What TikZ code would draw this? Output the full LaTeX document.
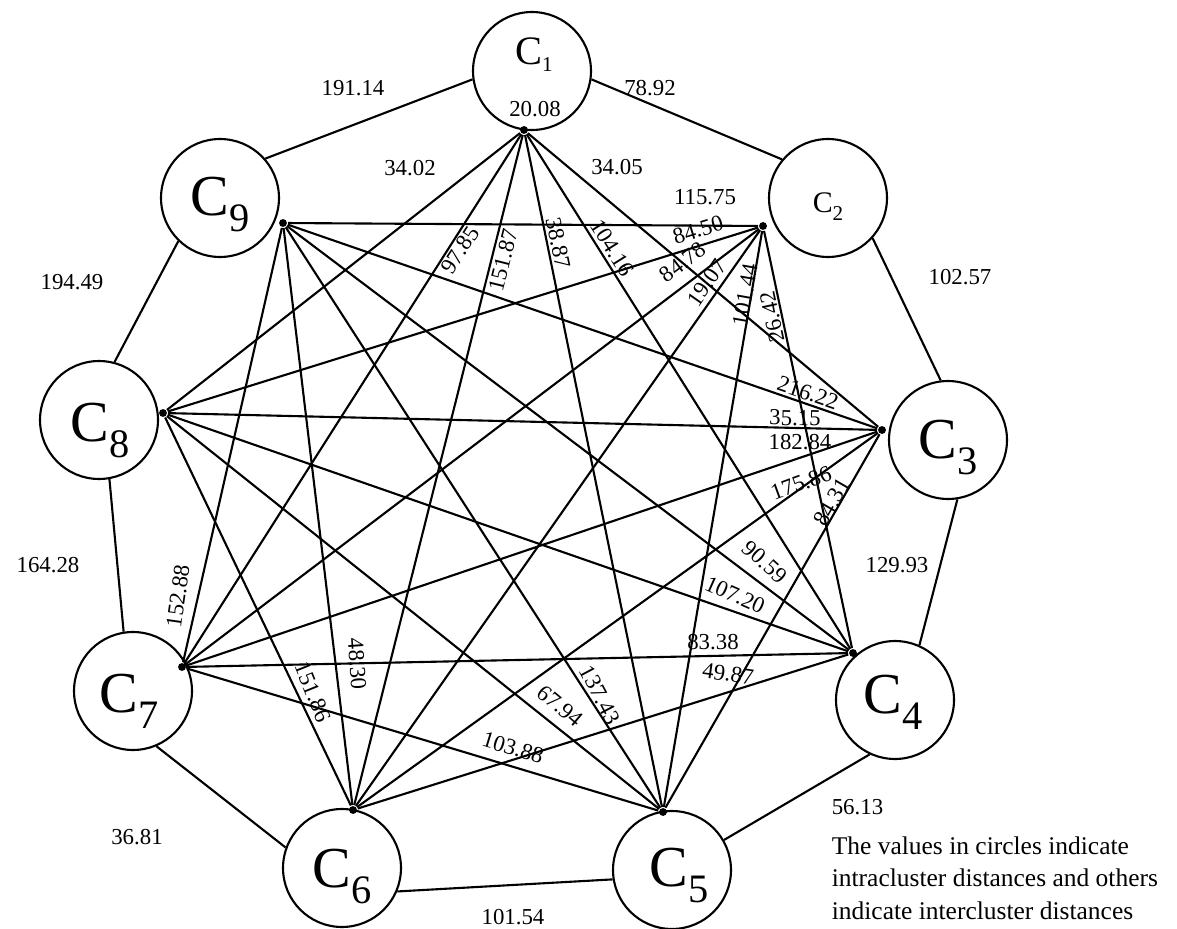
\documentclass[tikz,border=0pt]{standalone}
\usepackage{fontspec}
\setmainfont{Liberation Serif}
\newcommand{\bigclu}[1]{{\fontsize{33}{33}\selectfont C}\raisebox{-0.32cm}{\fontsize{23}{23}\selectfont #1}}

\begin{document}
\begin{tikzpicture}[x=0.02cm,y=-0.02cm,line width=1.2pt,
  clu/.style={draw,circle,minimum size=2.36cm,inner sep=0pt},
  hub/.style={circle,fill,inner sep=0pt,minimum size=4.5pt},
  cname/.style={inner sep=0pt,text depth=0pt},
  num/.style={font=\fontsize{13}{15}\selectfont,inner sep=1pt}]
\useasboundingbox (0,0) rectangle (1177,929);

\node[clu] (c1) at (532,71) {};
\node[clu] (c2) at (828,198) {};
\node[clu] (c3) at (948,440) {};
\node[clu] (c4) at (895,700) {};
\node[clu] (c5) at (672,870) {};
\node[clu] (c6) at (342,868) {};
\node[clu] (c7) at (133,691) {};
\node[clu] (c8) at (99,420) {};
\node[clu] (c9) at (220,198) {};

\node[cname] (n1) at (534,51) {{\fontsize{23}{23}\selectfont C}\raisebox{-0.14cm}{\fontsize{12}{12}\selectfont 1}};
\node[cname] (n2) at (828,203) {{\fontsize{17}{17}\selectfont C}\raisebox{-0.16cm}{\fontsize{12}{12}\selectfont 2}};
\node[cname] (n3) at (948,439) {\bigclu{3}};
\node[cname] (n4) at (893,694) {\bigclu{4}};
\node[cname] (n5) at (679,867) {\bigclu{5}};
\node[cname] (n6) at (342,868) {\bigclu{6}};
\node[cname] (n7) at (129,693) {\bigclu{7}};
\node[cname] (n8) at (100,422) {\bigclu{8}};
\node[cname] (n9) at (220,196) {\bigclu{9}};

\node[hub] (h1) at (524,130) {};
\node[hub] (h2) at (763,226) {};
\node[hub] (h3) at (882,430) {};
\node[hub] (h4) at (853,653) {};
\node[hub] (h5) at (663,812) {};
\node[hub] (h6) at (353,810) {};
\node[hub] (h7) at (182,667) {};
\node[hub] (h8) at (163,413) {};
\node[hub] (h9) at (283,223) {};

\foreach \a/\b in {1/3,1/4,1/5,1/6,1/7,1/8,2/4,2/5,2/6,2/7,2/8,2/9,3/5,3/6,3/7,3/8,3/9,
  4/6,4/7,4/8,4/9,5/7,5/8,5/9,6/8,6/9,7/9}
  \draw (h\a) -- (h\b);

\draw (c1.352) -- (c2.140);
\draw (c2.318) -- (c3.97);
\draw (c3.279) -- (c4.66);
\draw (c4.245) -- (c5.30);
\draw (c5.189) -- (c6.337);
\draw (c6.160) -- (c7.293);
\draw (c7.99) -- (c8.280);
\draw (c8.75) -- (c9.226);
\draw (c9.41) -- (c1.188);

\node[num] (d11) at (535,109) {20.08};
\node[num] (d12) at (650,88) {78.92};
\node[num] (d19) at (353,88) {191.14};
\node[num] (d23) at (960,277) {102.57};
\node[num] (d34) at (897,565) {129.93};
\node[num,anchor=west] (d45) at (829,807) {56.13};
\node[num] (d56) at (513,917) {101.54};
\node[num] (d67) at (137,837) {36.81};
\node[num] (d78) at (48,565) {164.28};
\node[num] (d89) at (72,282) {194.49};

\node[num] (d18) at (410,168) {34.02};
\node[num] (d13) at (617,167) {34.05};
\node[num,rotate=57] (d17) at (460,250) {97.85};
\node[num,rotate=76] (d16) at (503,260) {151.87};
\node[num,rotate=-78] (d15) at (558,243) {38.87};
\node[num,rotate=-58] (d14) at (612,248) {104.16};
\node[num] (d29) at (705,197) {115.75};
\node[num,rotate=17] (d28) at (698,230) {84.50};
\node[num,rotate=37] (d27) at (683,262) {84.78};
\node[num,rotate=55] (d26) at (707,283) {19.07};
\node[num,rotate=80] (d25) at (745,295) {101.44};
\node[num,rotate=102] (d24) at (772,317) {26.42};
\node[num,rotate=-19] (d39) at (808,393) {216.22};
\node[num,rotate=-1] (d38) at (795,418) {35.15};
\node[num] (d37) at (800,442) {182.84};
\node[num,rotate=20] (d36) at (801,483) {175.86};
\node[num,rotate=60] (d35) at (832,502) {84.31};
\node[num,rotate=-42] (d49) at (765,562) {90.59};
\node[num,rotate=-24] (d48) at (735,595) {107.20};
\node[num] (d47) at (713,642) {83.38};
\node[num,rotate=-8] (d46) at (728,674) {49.87};
\node[num,rotate=-62] (d59) at (600,695) {137.43};
\node[num,rotate=-40] (d58) at (560,706) {67.94};
\node[num,rotate=-17] (d57) at (513,748) {103.88};
\node[num,rotate=-86] (d69) at (357,664) {48.30};
\node[num,rotate=-68] (d68) at (313,692) {151.86};
\node[num,rotate=82] (d79) at (178,596) {152.88};

\node[num,anchor=north west,align=left,font=\fontsize{14.5}{18.5}\selectfont] (note) at (829,834)
  {The values in circles indicate\\intracluster distances and others\\indicate intercluster distances};
\end{tikzpicture}
\end{document}
